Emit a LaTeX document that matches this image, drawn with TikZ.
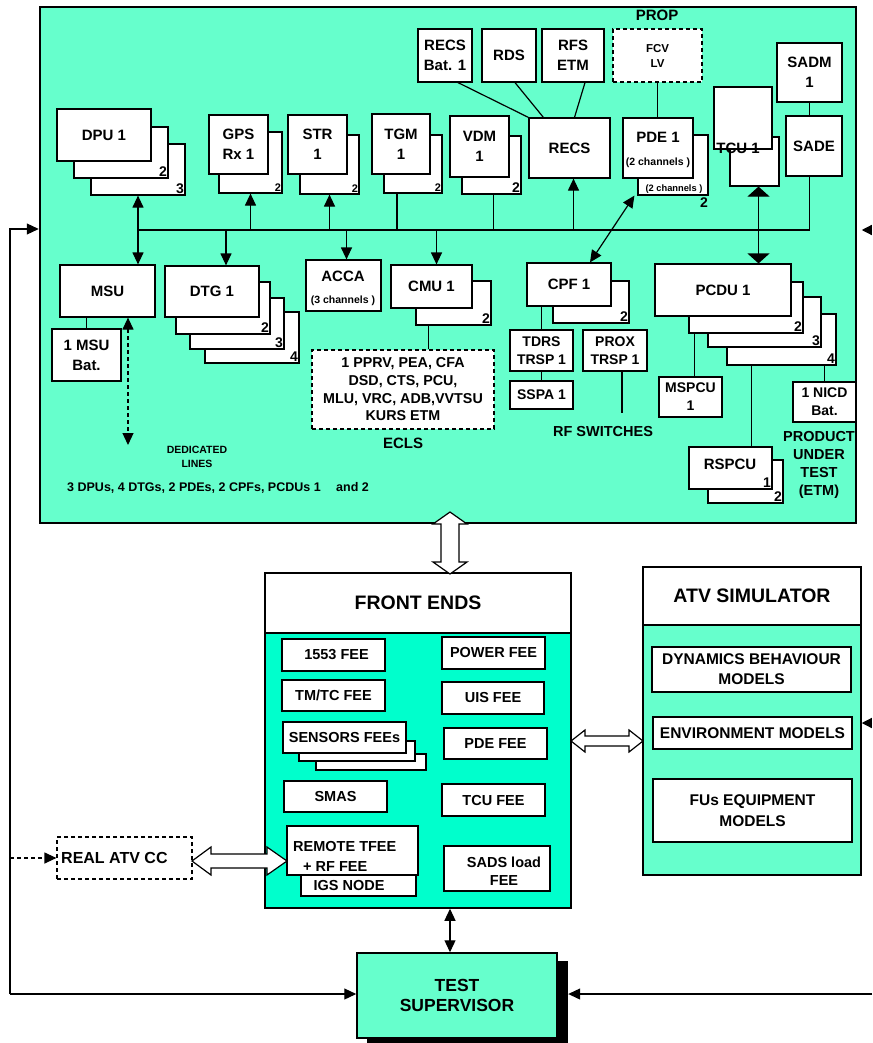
\documentclass[tikz,border=0pt]{standalone}
\usepackage{fontspec}
\setmainfont{Liberation Sans}
\usetikzlibrary{fit,positioning,arrows.meta}
\definecolor{aqua}{RGB}{102,255,204}
\definecolor{feaqua}{RGB}{0,255,204}
\newcommand{\fLbl}{\fontsize{15}{20}\selectfont\bfseries}
\newcommand{\fSmLbl}{\fontsize{11.5}{15}\selectfont\bfseries}
\newcommand{\fTiny}{\fontsize{10.5}{12}\selectfont\bfseries}
\newcommand{\fNum}{\fontsize{14}{14}\selectfont\bfseries}
\newcommand{\fNumSm}{\fontsize{11}{11}\selectfont\bfseries}
\newcommand{\fFee}{\fontsize{14.5}{18}\selectfont\bfseries}
\newcommand{\fTtl}{\fontsize{19.5}{22}\selectfont\bfseries}

\begin{document}
\begin{tikzpicture}[x=1pt, y=-1pt, >={Triangle[length=12pt,width=11pt]},
    unitbox/.style={draw, fill=white, line width=1.2pt, inner sep=0pt, align=center, font=\fLbl},
    ghostbox/.style={unitbox, dash pattern=on 4pt off 3pt},
    num/.style={anchor=south east, inner sep=1.5pt, font=\fNum},
    numsm/.style={num, font=\fNumSm},
    note/.style={inner sep=0pt, align=center, font=\fLbl},
    feebox/.style={unitbox, font=\fFee},
    conn/.style={line width=1.2pt},
    hollow/.style={draw, fill=white, line width=1.2pt},
    widetip/.style={>={Triangle[length=10pt,width=22pt]}},
    edgetip/.style={>={Triangle[length=10pt,width=10pt]}}]
\useasboundingbox (0,0) rectangle (872,1043);

% test bench
\node[draw, line width=2.5pt, fill=aqua, inner sep=0pt, fit={(40,7) (856,523)}] (bench) {};
\node[note] (prop) at (657,15) {PROP};

% top row
\node[unitbox, minimum width=54, minimum height=53] (recsbat) at (445,55.5) {RECS\\Bat. 1};
\node[unitbox, minimum width=54, minimum height=53] (rds) at (509,55.5) {RDS};
\node[unitbox, minimum width=62, minimum height=53] (rfs) at (573,55.5) {RFS\\ETM};
\node[ghostbox, minimum width=89, minimum height=53, font=\fSmLbl] (fcv) at (657.5,55.5) {FCV\\LV};
\node[unitbox, minimum width=65, minimum height=59] (sadm) at (809.5,72.5) {SADM\\1};
\node[unitbox, minimum width=56, minimum height=60] (sade) at (814,146) {SADE};
\node[unitbox, fit={(730,137) (779,186)}] (tcu2) {};
\node[unitbox, fit={(714,87) (772,149)}] (tcu1) {};
\node[note] (tcut) at (738,148) {TCU 1};
\node[unitbox, fit={(638,135) (708,195)}] (pde2) {};
\node[note, font=\fontsize{9.3}{10}\selectfont\bfseries] (pdech2) at (674,189) {(2 channels )};
\node[note, font=\fNum] (pde2n) at (704,203) {2};
\node[unitbox, fit={(623,118) (693,178)}] (pde1) {};
\node[note] (pdet) at (658,137) {PDE 1};
\node[note, font=\fTiny] (pdech) at (658,163) {(2 channels )};
\node[unitbox, minimum width=81, minimum height=60] (recs) at (569.5,148) {RECS};
\node[unitbox, fit={(462,136) (521,194)}] (vdm2) {};
\node[num] (vdm2n) at (vdm2.south east) {2};
\node[unitbox, minimum width=59, minimum height=61] (vdm1) at (479.5,146.5) {VDM\\1};
\node[unitbox, fit={(384,135) (442,193)}] (tgm2) {};
\node[numsm] (tgm2n) at (tgm2.south east) {2};
\node[unitbox, minimum width=58, minimum height=60] (tgm1) at (401,144) {TGM\\1};
\node[unitbox, fit={(300,135) (359,194)}] (str2) {};
\node[numsm] (str2n) at (str2.south east) {2};
\node[unitbox, minimum width=59, minimum height=59] (str1) at (317.5,144.5) {STR\\1};
\node[unitbox, fit={(219,132) (282,193)}] (gps2) {};
\node[numsm] (gps2n) at (gps2.south east) {2};
\node[unitbox, minimum width=59, minimum height=59] (gps1) at (238.5,144.5) {GPS\\Rx 1};
\node[unitbox, fit={(91,144) (185,195)}] (dpu3) {};
\node[num] (dpu3n) at (dpu3.south east) {3};
\node[unitbox, fit={(74,127) (168,178)}] (dpu2) {};
\node[num] (dpu2n) at (dpu2.south east) {2};
\node[unitbox, minimum width=94, minimum height=52] (dpu1) at (104,135) {DPU 1};

% lower row
\node[unitbox, minimum width=95, minimum height=52] (msu) at (107.5,291) {MSU};
\node[unitbox, minimum width=69, minimum height=52] (msubat) at (86.5,355) {1 MSU\\Bat.};
\node[note, font=\fontsize{10.5}{14}\selectfont\bfseries] (dedl) at (197,457) {DEDICATED\\LINES};
\node[note, anchor=west, font=\fontsize{12.5}{14}\selectfont\bfseries] (counts) at (67,488)
    {3 DPUs, 4 DTGs, 2 PDEs, 2 CPFs, PCDUs 1\hspace{12pt} and 2};
\node[unitbox, fit={(205,312) (299,363)}] (dtg4) {};
\node[num] (dtg4n) at (dtg4.south east) {4};
\node[unitbox, fit={(190,298) (284,349)}] (dtg3) {};
\node[num] (dtg3n) at (dtg3.south east) {3};
\node[unitbox, fit={(176,282) (270,334)}] (dtg2) {};
\node[num] (dtg2n) at (dtg2.south east) {2};
\node[unitbox, minimum width=94, minimum height=51] (dtg1) at (212,291.5) {DTG 1};
\node[unitbox, fit={(306,260) (381,311)}] (acca) {};
\node[note] (accat) at (343,276) {ACCA};
\node[note, font=\fTiny] (accach) at (343,301) {(3 channels )};
\node[unitbox, fit={(416,281) (491,325)}] (cmu2) {};
\node[num] (cmu2n) at (cmu2.south east) {2};
\node[unitbox, minimum width=81, minimum height=43] (cmu1) at (431.5,286.5) {CMU 1};
\node[ghostbox, minimum width=182, minimum height=79, font=\fontsize{14.3}{17.7}\selectfont\bfseries] (ecls)
    at (403,389.5) {1 PPRV, PEA, CFA\\DSD, CTS, PCU,\\MLU, VRC, ADB,VVTSU\\KURS ETM};
\node[note, below=8pt of ecls] (eclsl) {ECLS};
\node[unitbox, fit={(553,281) (629,323)}] (cpf2) {};
\node[num] (cpf2n) at (cpf2.south east) {2};
\node[unitbox, minimum width=84, minimum height=43] (cpf1) at (569,284.5) {CPF 1};
\node[unitbox, minimum width=63, minimum height=41, font=\fontsize{14}{18}\selectfont\bfseries] (tdrs) at (541.5,350.5) {TDRS\\TRSP 1};
\node[unitbox, minimum width=63, minimum height=28, font=\fontsize{14}{18}\selectfont\bfseries] (sspa) at (541.5,395) {SSPA 1};
\node[unitbox, minimum width=64, minimum height=41, font=\fontsize{14}{18}\selectfont\bfseries] (prox) at (615,350.5) {PROX\\TRSP 1};
\coordinate (rfsw) at (622,413);
\node[note, font=\fFee] (rfswl) at (603,432) {RF SWITCHES};
\node[unitbox, fit={(727,314) (836,365)}] (pcdu4) {};
\node[num] (pcdu4n) at (pcdu4.south east) {4};
\node[unitbox, fit={(708,297) (821,347)}] (pcdu3) {};
\node[num] (pcdu3n) at (pcdu3.south east) {3};
\node[unitbox, fit={(689,282) (803,333)}] (pcdu2) {};
\node[num] (pcdu2n) at (pcdu2.south east) {2};
\node[unitbox, minimum width=136, minimum height=52] (pcdu1) at (723,290) {PCDU 1};
\node[unitbox, minimum width=63, minimum height=40, font=\fontsize{14}{18}\selectfont\bfseries] (mspcu) at (690.5,397) {MSPCU\\1};
\node[unitbox, minimum width=63, minimum height=40, font=\fontsize{14}{18}\selectfont\bfseries] (nicd) at (824.5,402) {1 NICD\\Bat.};
\node[note, font=\fFee] (put) at (819,465) {PRODUCT\\UNDER\\TEST\\(ETM)};
\node[unitbox, fit={(708,460) (783,503)}] (rspcu2) {};
\node[num] (rspcu2n) at (rspcu2.south east) {2};
\node[unitbox, fit={(689,447) (772,489)}] (rspcu1) {};
\node[num] (rspcu1n) at (rspcu1.south east) {1};
\node[note] (rspcut) at (730,464) {RSPCU};

% bus and links
\coordinate (busw) at (138,230);
\coordinate (buse) at (810,230);
\draw[conn] (busw) -- (buse);
\draw[conn, <->] (dpu3.south) -- (dpu3.south |- msu.north);
\draw[conn, ->] (gps2.south |- busw) -- (gps2.south);
\draw[conn, ->] (str2.south |- busw) -- (str2.south);
\draw[conn] ([xshift=-16pt]tgm2.south |- busw) -- ([xshift=-16pt]tgm2.south);
\draw[conn] ([xshift=2pt]vdm2.south |- busw) -- ([xshift=2pt]vdm2.south);
\draw[conn, ->] ([xshift=4pt]recs.south |- busw) -- ([xshift=4pt]recs.south);
\draw[conn, <->] ([xshift=21pt]cpf1.north) -- ([xshift=-3pt]pde2.south west);
\draw[conn, widetip, <->] ([xshift=4pt]tcu2.south) -- ([xshift=4pt]tcu2.south |- pcdu1.north);
\draw[conn] (sadm.south) -- (sadm.south |- sade.north);
\draw[conn] (sadm.south |- sade.south) -- (sadm.south |- buse);
\draw[conn, ->] ([xshift=14pt]dtg1.north |- busw) -- ([xshift=14pt]dtg1.north);
\draw[conn, ->] ([xshift=3pt]acca.north |- busw) -- ([xshift=3pt]acca.north);
\draw[conn, ->] ([xshift=5pt]cmu1.north |- busw) -- ([xshift=5pt]cmu1.north);
\draw[conn] ([xshift=13pt]recsbat.south) -- (recs.north west);
\draw[conn] ([xshift=6pt]rds.south) -- ([xshift=15pt]recs.north west);
\draw[conn] ([xshift=12pt]rfs.south) -- ([xshift=5pt]recs.north);
\draw[conn] (fcv.south) -- (fcv.south |- pde1.north);
\draw[conn] (msubat.north) -- (msubat.north |- msu.south);
\coordinate (ded) at (128,445);
\draw[conn, dash pattern=on 4pt off 3pt, <->] (ded |- msu.south) -- (ded);
\draw[conn] ([xshift=-3pt]cmu1.south |- cmu2.south) -- ([xshift=-3pt]cmu1.south |- ecls.north);
\draw[conn] (tdrs.north |- cpf1.south) -- (tdrs.north);
\draw[conn] (tdrs.south) -- (sspa.north);
\draw[conn] (rfsw |- prox.south) -- (rfsw);
\draw[conn] ([xshift=4pt]mspcu.north |- pcdu2.south) -- ([xshift=4pt]mspcu.north);
\draw[conn] (nicd.north |- pcdu4.south) -- (nicd.north);
\draw[conn] ([xshift=21pt]rspcu1.north |- pcdu4.south) -- ([xshift=21pt]rspcu1.north);

% front ends
\node[draw, line width=1.5pt, fill=feaqua, inner sep=0pt, fit={(265,573) (571,908)}] (fe) {};
\node[draw, line width=1.5pt, fill=white, inner sep=0pt, font=\fTtl, minimum width=306, minimum height=60] (fehead) at (418,603) {FRONT ENDS};
\node[feebox, minimum width=103, minimum height=32] (f1553) at (333.5,655) {\hspace{6pt}1553 FEE};
\node[feebox, minimum width=103, minimum height=31] (tmtc) at (333.5,695.5) {TM/TC FEE};
\node[feebox, fit={(316,754) (426,770)}] (sens3) {};
\node[feebox, fit={(299,741) (415,761)}] (sens2) {};
\node[feebox, minimum width=123, minimum height=31] (sens1) at (344.5,737.5) {SENSORS FEEs};
\node[feebox, minimum width=103, minimum height=31] (smas) at (335.5,796.5) {SMAS};
\node[feebox, fit={(301,860) (416,896)}] (igs) {};
\node[note, font=\fFee] (igst) at (349,885) {IGS NODE};
\node[feebox, fit={(287,826) (418,875)}] (remote) {};
\node[note, font=\fFee, anchor=west] (remotet1) at (293,846) {REMOTE TFEE};
\node[note, font=\fFee, anchor=west] (remotet2) at (303,867) {+ RF FEE};
\node[feebox, minimum width=103, minimum height=32] (power) at (493.5,653) {POWER FEE};
\node[feebox, minimum width=102, minimum height=32] (uis) at (493,698) {UIS FEE};
\node[feebox, minimum width=103, minimum height=31] (pdefee) at (495.5,743.5) {PDE FEE};
\node[feebox, minimum width=103, minimum height=32] (tcufee) at (493.5,800) {TCU FEE};
\node[feebox, fit={(444,846) (550,891)}] (sads) {};
\node[note, font=\fFee] (sadst) at (504,871) {SADS load\\FEE};

% ATV simulator
\node[draw, line width=1.5pt, fill=aqua, inner sep=0pt, fit={(643,567) (861,875)}] (sim) {};
\node[draw, line width=1.5pt, fill=white, inner sep=0pt, font=\fTtl, minimum width=218, minimum height=58] (simhead) at (752,596) {ATV SIMULATOR};
\node[unitbox, minimum width=199, minimum height=45, font=\fontsize{15.5}{20}\selectfont\bfseries] (dyn) at (751.5,669.5) {DYNAMICS BEHAVIOUR\\MODELS};
\node[unitbox, minimum width=199, minimum height=32, font=\fontsize{15.5}{20}\selectfont\bfseries] (env) at (752.5,733) {ENVIRONMENT MODELS};
\node[unitbox, minimum width=199, minimum height=63, font=\fontsize{15.5}{21}\selectfont\bfseries] (fus) at (752.5,810.5) {FUs EQUIPMENT\\MODELS};

% real ATV CC and test supervisor
\node[ghostbox, fit={(57,837) (192,879)}] (realcc) {};
\node[note, anchor=west, font=\fontsize{16}{18}\selectfont\bfseries] (realcct) at (61,858) {REAL ATV CC};
\node[fill=black, inner sep=0pt, fit={(367,961) (568,1043)}] (tsshade) {};
\node[draw, line width=1.5pt, fill=aqua, inner sep=0pt, align=center,
    font=\fontsize{17.5}{19.5}\selectfont\bfseries, minimum width=200, minimum height=85] (ts) at (457,995.5) {TEST\\SUPERVISOR};
\draw[conn, <->] ([xshift=32pt]fe.south) -- ([xshift=32pt]fe.south |- ts.north);

% outer loop lines
\coordinate (lt) at (10,229);
\coordinate (lb) at (10,994);
\coordinate (ccin) at (10,858);
\draw[conn, ->] (lb) -- (lt) -- (lt -| bench.west);
\draw[conn, ->] (lb) -- (lb -| ts.west);
\draw[conn, dash pattern=on 4pt off 3pt, ->] (ccin) -- (ccin -| realcc.west);
\coordinate (rt) at (872,230);
\coordinate (ra) at (872,723);
\coordinate (rb) at (872,994);
\draw[conn, edgetip, ->] (rt) -- (rt -| sim.east);
\draw[conn, edgetip, ->] (ra) -- (ra -| sim.east);
\draw[conn, ->] (rb) -- (rb -| tsshade.east);

% hollow links
\draw[hollow] (450,512) -- (467,524) -- (459,524) -- (459,562) -- (467,562) -- (450,574)
    -- (433,562) -- (441,562) -- (441,524) -- (433,524) -- cycle;
\draw[hollow] (571,741) -- (585,730) -- (585,736) -- (629,736) -- (629,730) -- (643,741)
    -- (629,752) -- (629,746) -- (585,746) -- (585,752) -- cycle;
\draw[hollow] (192,861) -- (211,847) -- (211,854) -- (267,854) -- (267,847) -- (287,861)
    -- (267,875) -- (267,868) -- (211,868) -- (211,875) -- cycle;
\end{tikzpicture}
\end{document}
